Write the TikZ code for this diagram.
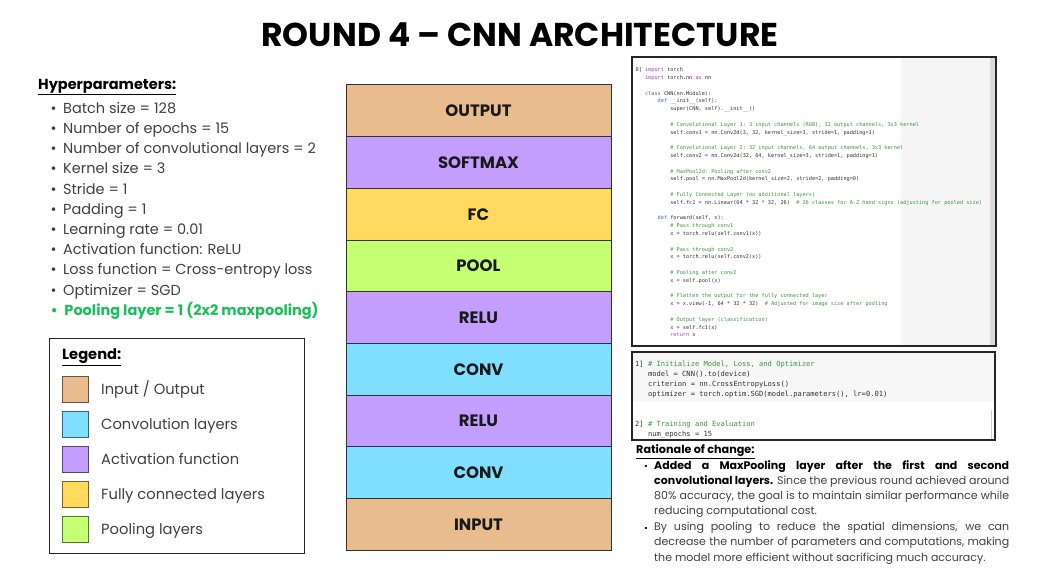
\documentclass[tikz,border=0pt]{standalone}
\usepackage{fontspec}
\setmainfont{Poppins}
\setmonofont{DejaVu Sans Mono}
\usetikzlibrary{positioning}

\definecolor{inoutcol}{HTML}{E8BC8F}
\definecolor{convcol}{HTML}{80DEFF}
\definecolor{actcol}{HTML}{C39EFF}
\definecolor{fccol}{HTML}{FFDA5C}
\definecolor{poolcol}{HTML}{C5FF72}
\definecolor{bodygray}{HTML}{404040}
\definecolor{hpgreen}{HTML}{1BBF5A}
\definecolor{codetext}{HTML}{333333}
\definecolor{codecmtcol}{HTML}{3C963C}
\definecolor{codekwcol}{HTML}{B03CC8}
\definecolor{codedefcol}{HTML}{3C64C8}

\newcommand{\codecmt}[1]{\textcolor{codecmtcol}{#1}}
\newcommand{\codekw}[1]{\textcolor{codekwcol}{#1}}
\newcommand{\codedef}[1]{\textcolor{codedefcol}{#1}}
\newcommand{\hpitem}[1]{\textbullet\hspace{6.5pt}#1}

\tikzset{
  layer/.style={draw=black!80, line width=1pt, minimum width=265pt, minimum height=51.7pt,
    inner sep=0pt, outer sep=0pt, text=black!90, font=\fontsize{16.5}{18}\selectfont\bfseries},
  swatch/.style={draw=#1!45!black, fill=#1, line width=1pt, minimum size=26pt,
    inner sep=0pt, outer sep=0pt},
  legtext/.style={anchor=west, inner sep=0pt, text height=14pt, text depth=3pt,
    text=bodygray, font=\fontsize{14.7}{18}\selectfont},
  panel/.style={draw=black!85, line width=1.5pt},
  heading/.style={anchor=west, inner sep=0pt, font=\bfseries},
}

\begin{document}
\begin{tikzpicture}[x=1pt,y=-1pt]
  \useasboundingbox (0,0) rectangle (1042,580);

  % title
  \node[font=\fontsize{33}{38}\selectfont\bfseries] (title) at (520,35) {ROUND 4 -- CNN ARCHITECTURE};

  % hyperparameters
  \node[heading, font=\fontsize{14.5}{18}\selectfont\bfseries] (hphead) at (38,87) {\underline{Hyperparameters:}};
  \node[anchor=north west, inner sep=0pt, align=left, text=bodygray,
    font=\fontsize{14.5}{20.2}\selectfont] (hplist) at (50.5,102) {%
    \hpitem{Batch size = 128}\\
    \hpitem{Number of epochs = 15}\\
    \hpitem{Number of convolutional layers = 2}\\
    \hpitem{Kernel size = 3}\\
    \hpitem{Stride = 1}\\
    \hpitem{Padding = 1}\\
    \hpitem{Learning rate = 0.01}\\
    \hpitem{Activation function: ReLU}\\
    \hpitem{Loss function = Cross-entropy loss}\\
    \hpitem{Optimizer = SGD}\\
    \textcolor{hpgreen}{\bfseries\hpitem{Pooling layer = 1 (2x2 maxpooling)}}};

  % legend
  \draw[draw=black!85, line width=1pt] (49,338) rectangle (304,553);
  \node[heading, font=\fontsize{14.7}{18}\selectfont\bfseries] (leghead) at (62,357) {\underline{Legend:}};
  \node[swatch=inoutcol] (keyio) at (75,389) {};
  \node[swatch=convcol] (keyconv) at (75,424) {};
  \node[swatch=actcol] (keyact) at (75,459) {};
  \node[swatch=fccol] (keyfc) at (75,494) {};
  \node[swatch=poolcol] (keypool) at (75,529) {};
  \node[legtext, right=13pt of keyio] (keyiotext) {Input / Output};
  \node[legtext, right=13pt of keyconv] (keyconvtext) {Convolution layers};
  \node[legtext, right=13pt of keyact] (keyacttext) {Activation function};
  \node[legtext, right=13pt of keyfc] (keyfctext) {Fully connected layers};
  \node[legtext, right=13pt of keypool] (keypooltext) {Pooling layers};

  % layer stack
  \node[layer, fill=inoutcol] (output) at (478.5,110.85) {OUTPUT};
  \node[layer, fill=actcol, below=0pt of output] (softmax) {SOFTMAX};
  \node[layer, fill=fccol, below=0pt of softmax] (fc) {FC};
  \node[layer, fill=poolcol, below=0pt of fc] (pool) {POOL};
  \node[layer, fill=actcol, below=0pt of pool] (relu2) {RELU};
  \node[layer, fill=convcol, below=0pt of relu2] (conv2) {CONV};
  \node[layer, fill=actcol, below=0pt of conv2] (relu1) {RELU};
  \node[layer, fill=convcol, below=0pt of relu1] (conv1) {CONV};
  \node[layer, fill=inoutcol, below=0pt of conv1] (input) {INPUT};

  % code panel: model
  \fill[white] (632,57) rectangle (996,346);
  \fill[black!4] (901,58) rectangle (990,345);
  \fill[black!15] (990,58) rectangle (995,345);
  \draw[panel] (632,57) rectangle (996,346);
  \node[anchor=north west, inner sep=0pt, align=left, text=codetext,
    font=\fontsize{5.23}{7.8}\selectfont\ttfamily] (modelcode) at (635.5,67.5) {%
    0]~\codekw{import} torch\\
    ~~~\codekw{import} torch.nn \codekw{as} nn\\[7.8pt]
    ~~~\codedef{class} CNN(nn.Module):\\
    ~~~~~~~\codedef{def} \_\_init\_\_(self):\\
    ~~~~~~~~~~~super(CNN, self).\_\_init\_\_()\\[7.8pt]
    ~~~~~~~~~~~\codecmt{\# Convolutional Layer 1: 3 input channels (RGB), 32 output channels, 3x3 kernel}\\
    ~~~~~~~~~~~self.conv1 = nn.Conv2d(3, 32, kernel\_size=3, stride=1, padding=1)\\[7.8pt]
    ~~~~~~~~~~~\codecmt{\# Convolutional Layer 2: 32 input channels, 64 output channels, 3x3 kernel}\\
    ~~~~~~~~~~~self.conv2 = nn.Conv2d(32, 64, kernel\_size=3, stride=1, padding=1)\\[7.8pt]
    ~~~~~~~~~~~\codecmt{\# MaxPool2d: Pooling after conv2}\\
    ~~~~~~~~~~~self.pool = nn.MaxPool2d(kernel\_size=2, stride=2, padding=0)\\[7.8pt]
    ~~~~~~~~~~~\codecmt{\# Fully Connected Layer (no additional layers)}\\
    ~~~~~~~~~~~self.fc1 = nn.Linear(64 * 32 * 32, 26)~~\codecmt{\# 26 classes for A-Z hand signs (adjusting for pooled size)}\\[7.8pt]
    ~~~~~~~\codedef{def} forward(self, x):\\
    ~~~~~~~~~~~\codecmt{\# Pass through conv1}\\
    ~~~~~~~~~~~x = torch.relu(self.conv1(x))\\[7.8pt]
    ~~~~~~~~~~~\codecmt{\# Pass through conv2}\\
    ~~~~~~~~~~~x = torch.relu(self.conv2(x))\\[7.8pt]
    ~~~~~~~~~~~\codecmt{\# Pooling after conv2}\\
    ~~~~~~~~~~~x = self.pool(x)\\[7.8pt]
    ~~~~~~~~~~~\codecmt{\# Flatten the output for the fully connected layer}\\
    ~~~~~~~~~~~x = x.view(-1, 64 * 32 * 32)~~\codecmt{\# Adjusted for image size after pooling}\\[7.8pt]
    ~~~~~~~~~~~\codecmt{\# Output layer (classification)}\\
    ~~~~~~~~~~~x = self.fc1(x)\\
    ~~~~~~~~~~~\codekw{return} x};

  % code panel: training
  \fill[white] (632,352) rectangle (995,440);
  \fill[black!3] (633,353) rectangle (994,402);
  \draw[black!20] (991,410) -- (991,439);
  \draw[panel] (632,352) rectangle (995,440);
  \node[anchor=north west, inner sep=0pt, align=left, text=codetext,
    font=\fontsize{7.1}{10}\selectfont\ttfamily] (traincode) at (635,361) {%
    1]~\codecmt{\# Initialize Model, Loss, and Optimizer}\\
    ~~~model = CNN().to(device)\\
    ~~~criterion = nn.CrossEntropyLoss()\\
    ~~~optimizer = torch.optim.SGD(model.parameters(), lr=0.01)};
  \node[anchor=north west, inner sep=0pt, align=left, text=codetext,
    font=\fontsize{7.1}{10}\selectfont\ttfamily] (evalcode) at (635,420.5) {%
    2]~\codecmt{\# Training and Evaluation}\\
    ~~~num\_epochs = 15};

  % rationale
  \node[heading, font=\fontsize{11.2}{14}\selectfont\bfseries] (rathead) at (636,452) {\underline{Rationale of change:}};
  \node[anchor=center, inner sep=0pt, font=\fontsize{9}{10}\selectfont] (ratbullet1) at (646,467) {\textbullet};
  \node[anchor=center, inner sep=0pt, font=\fontsize{9}{10}\selectfont] (ratbullet2) at (646,529) {\textbullet};
  \node[anchor=north west, inner sep=0pt, text width=355pt, align=justify, text=bodygray,
    font=\fontsize{11}{15.3}\selectfont] (rattext1) at (654,460) {%
    \textcolor{black}{\bfseries Added a MaxPooling layer after the first and second\linebreak
    convolutional layers.} Since the previous round achieved around\linebreak
    80\% accuracy, the goal is to maintain similar performance while\linebreak
    reducing computational cost.};
  \node[anchor=north west, inner sep=0pt, text width=355pt, align=justify, text=bodygray,
    font=\fontsize{11}{15.3}\selectfont] (rattext2) at (654,522) {%
    By using pooling to reduce the spatial dimensions, we can\linebreak
    decrease the number of parameters and computations, making\linebreak
    the model more efficient without sacrificing much accuracy.};
\end{tikzpicture}
\end{document}
